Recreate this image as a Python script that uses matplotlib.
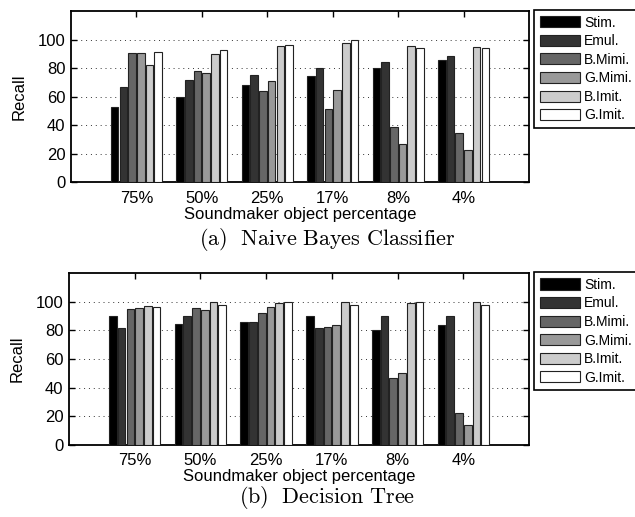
import numpy as np
import matplotlib
matplotlib.use('Agg')
import matplotlib.pyplot as plt

plt.rcParams['font.family'] = ['Liberation Sans', 'DejaVu Sans']
plt.rcParams['mathtext.fontset'] = 'cm'

categories = ['75%', '50%', '25%', '17%', '8%', '4%']
methods = ['Stim.', 'Emul.', 'B.Mimi.', 'G.Mimi.', 'B.Imit.', 'G.Imit.']
shades = ['#000000', '#333333', '#666666', '#999999', '#cccccc', '#ffffff']

# naive bayes recall, one list per method
nb_stim = [53, 60, 68, 74.5, 80, 85.5]
nb_emul = [67, 72, 75, 80, 84, 88.5]
nb_bmimi = [90.5, 78, 64, 51.5, 38.5, 34.5]
nb_gmimi = [90.5, 76.5, 71, 65, 27, 22.5]
nb_bimit = [82.5, 90, 95.5, 97.5, 95.5, 94.5]
nb_gimit = [91.5, 92.5, 96, 99.5, 94, 94]

# decision tree recall
dt_stim = [90, 84.5, 86, 90, 80, 84]
dt_emul = [82, 90, 86, 82, 90, 90]
dt_bmimi = [95, 95.5, 92, 82.5, 46.5, 22]
dt_gmimi = [96, 94.5, 96.5, 84, 50.5, 14]
dt_bimit = [97, 100, 99.5, 100, 99, 100]
dt_gimit = [96.5, 98, 100, 98, 100, 98]

panels = [
    ([nb_stim, nb_emul, nb_bmimi, nb_gmimi, nb_bimit, nb_gimit],
     [0.1118, 0.6474, 0.7213, 0.3313], r'$\mathrm{(a)\ \ Naive\ Bayes\ Classifier}$', 0.537),
    ([dt_stim, dt_emul, dt_bmimi, dt_gmimi, dt_bimit, dt_gimit],
     [0.1087, 0.1398, 0.7244, 0.3316], r'$\mathrm{(b)\ \ Decision\ Tree}$', 0.037),
]

fig = plt.figure(figsize=(6.35, 5.17), dpi=100)
x = np.arange(1, len(categories) + 1)
step = 0.133
w = 0.117

for series, rect, caption, cap_y in panels:
    ax = fig.add_axes(rect)
    handles = []
    for i, vals in enumerate(series):
        b = ax.bar(x + (i - 2.5) * step, vals, w, color=shades[i],
                   edgecolor='#222222', linewidth=0.8, zorder=3, label=methods[i])
        handles.append(b)
    ax.set_xlim(0, 7)
    ax.set_ylim(0, 120)
    ax.set_yticks([0, 20, 40, 60, 80, 100])
    ax.set_xticks(x)
    ax.set_xticklabels(categories)
    ax.yaxis.grid(True, linestyle=(0, (1, 4)), color='#333333', linewidth=0.7, zorder=0)
    ax.tick_params(direction='in', length=4, width=1, top=True, right=True,
                   labelsize=12, pad=4)
    ax.tick_params(axis='x', pad=6)
    for s in ax.spines.values():
        s.set_linewidth(1.3)
    ax.set_ylabel('Recall', fontsize=12, labelpad=8)
    ax.set_xlabel('Soundmaker object percentage', fontsize=12, labelpad=1)

    top = rect[1] + rect[3]
    leg = fig.legend(handles=handles, loc='upper left', bbox_to_anchor=(0.841, top + 0.002),
                     fontsize=10, frameon=True, fancybox=False, framealpha=1,
                     edgecolor='black', handlelength=2.9, handleheight=0.85,
                     handletextpad=0.3, labelspacing=0.33, borderpad=0.4,
                     borderaxespad=0)
    leg.get_frame().set_linewidth(1.2)

    fig.text(0.515, cap_y, caption, fontsize=16, ha='center', va='center')

fig.savefig('out.png', dpi=100)
